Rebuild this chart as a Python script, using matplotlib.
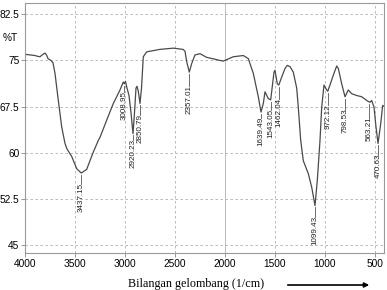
import matplotlib

matplotlib.use("Agg")

import matplotlib.pyplot as plt
from matplotlib import font_manager
from matplotlib.patches import FancyArrowPatch

# IR spectrum (wavenumber in 1/cm, transmittance in %)
wavenumbers = [
    4000, 3950, 3900, 3880, 3850, 3820, 3800, 3785, 3770, 3740, 3720, 3700,
    3667, 3633, 3600, 3580, 3533, 3483, 3437, 3383, 3317, 3267, 3250, 3183,
    3117, 3050, 3017, 3008, 2995, 2983, 2960, 2940, 2920, 2905, 2890, 2880,
    2867, 2850, 2835, 2817, 2783, 2650, 2517, 2420, 2400, 2383, 2357, 2333,
    2300, 2250, 2183, 2100, 2050, 2017, 1917, 1817, 1767, 1717, 1667, 1640,
    1617, 1600, 1567, 1543, 1510, 1500, 1477, 1462, 1433, 1400, 1377, 1350,
    1317, 1283, 1267, 1243, 1217, 1167, 1133, 1100, 1077, 1050, 1033, 1010,
    983, 972, 957, 917, 883, 867, 833, 800, 767, 733, 683, 633, 583, 563,
    550, 533, 510, 490, 470, 443, 423, 400,
]
transmittance = [
    76.0, 75.9, 75.8, 75.7, 75.6, 76.0, 76.2, 75.9, 75.3, 75.0, 74.6, 72.9,
    68.5, 64.2, 61.5, 60.6, 59.4, 57.4, 56.7, 57.3, 60.1, 62.0, 62.5, 65.3,
    68.0, 70.2, 71.5, 71.2, 71.6, 70.7, 69.3, 66.5, 63.1, 66.5, 70.5, 70.8,
    70.0, 68.0, 70.5, 75.6, 76.4, 76.8, 77.0, 76.8, 76.5, 74.8, 73.1, 74.5,
    75.9, 76.1, 75.5, 75.2, 75.0, 74.9, 75.6, 75.8, 75.3, 72.9, 69.1, 66.6,
    68.0, 69.9, 68.8, 68.6, 73.1, 73.4, 71.2, 71.0, 72.3, 73.7, 74.2, 74.0,
    73.1, 70.5, 67.4, 62.0, 58.7, 56.6, 54.4, 51.4, 55.5, 62.0, 67.4, 71.0,
    70.2, 70.0, 70.7, 72.6, 74.1, 73.7, 71.2, 69.1, 70.2, 69.6, 69.3, 69.1,
    68.5, 68.3, 68.2, 68.5, 67.4, 64.2, 61.5, 64.7, 67.7, 67.4,
]

peak_labels = [
    "3437.15", "3008.95", "2920.23", "2850.79", "2357.01", "1639.49",
    "1543.05", "1462.04", "1099.43", "972.12", "798.53", "563.21", "470.63",
]
peak_positions = [3437, 3008, 2920, 2850, 2357, 1639, 1543, 1462, 1099, 972, 798, 563, 470]
peak_values = [56.7, 71.2, 63.1, 68.0, 73.1, 66.6, 68.6, 71.0, 51.4, 70.0, 69.1, 68.3, 61.5]

x_ticks = [4000, 3500, 3000, 2500, 2000, 1500, 1000, 500]
y_ticks = [45, 52.5, 60, 67.5, 75, 82.5]
y_tick_labels = ["45", "52.5", "60", "67.5", "75", "82.5"]

# where each rotated label starts (top of the text), in %T
label_tops = [55.05, 70.1, 62.3, 66.3, 71.0, 65.8, 67.2, 68.9, 49.7, 67.9, 67.2, 65.9, 59.8]

installed = {f.name for f in font_manager.fontManager.ttflist}
tick_font = [
    name for name in ["Liberation Sans Narrow", "DejaVu Sans Condensed", "Liberation Sans"]
    if name in installed
] + ["DejaVu Sans"]
tick_size = 8.2 if tick_font[0] != "Liberation Sans" else 7.3

fig = plt.figure(figsize=(3.87, 2.90), dpi=100)
ax = fig.add_axes([25 / 387, 1 - 253.3 / 290, 359.3 / 387, 250 / 290])

ax.plot(wavenumbers, transmittance, color="#4a4a4a", linewidth=0.9)

for label, x, y, top in zip(peak_labels, peak_positions, peak_values, label_tops):
    ax.plot([x, x], [y - 0.3, top - 0.2], color="#555555", linewidth=0.6)
    ax.text(
        x, top, label, rotation=90, ha="center", va="top",
        fontsize=5.8, family=["Liberation Sans", "DejaVu Sans"], color="#222222",
    )

ax.set_xlim(4000, 407)
ax.set_ylim(43.65, 84.29)
ax.set_xticks(x_ticks)
ax.set_yticks(y_ticks)
ax.set_yticklabels(y_tick_labels)

for x in x_ticks:
    style = "-" if x == 2000 else (0, (3, 3))
    ax.axvline(x, color="#b0b0b0", linewidth=0.6, linestyle=style, zorder=0)
for y in y_ticks:
    ax.axhline(y, color="#b0b0b0", linewidth=0.6, linestyle=(0, (3, 3)), zorder=0)

for spine in ax.spines.values():
    spine.set_color("#9a9a9a")
    spine.set_linewidth(0.8)

ax.tick_params(
    direction="out", length=3, width=0.6, color="#888888",
    labelsize=tick_size, pad=1,
)
for tick_label in ax.get_xticklabels() + ax.get_yticklabels():
    tick_label.set_family(tick_font)

fig.text(10 / 387, 1 - 38 / 290, "%T", ha="center", va="center", fontsize=tick_size, family=tick_font)
fig.text(
    196 / 387, 1 - 284 / 290, "Bilangan gelombang (1/cm)",
    ha="center", va="center", fontsize=8.7, family=["Liberation Serif", "DejaVu Serif"],
)
fig.patches.append(
    FancyArrowPatch(
        (285 / 387, 1 - 285 / 290), (372 / 387, 1 - 285 / 290),
        transform=fig.transFigure, arrowstyle="-|>", mutation_scale=7,
        color="black", linewidth=1.2,
    )
)

fig.savefig("out.png", dpi=100)
plt.close(fig)
